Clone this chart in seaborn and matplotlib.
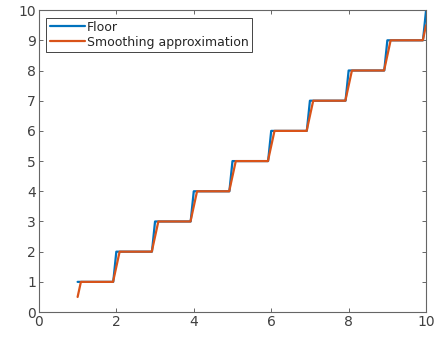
import numpy as np
import pandas as pd
import seaborn as sns
import matplotlib.pyplot as plt

# values
floor_x = [1, 1.92, 2, 2.92, 3, 3.92, 4, 4.92, 5, 5.92, 6, 6.92, 7, 7.92, 8, 8.92, 9, 9.92, 10]
floor_y = [1, 1, 2, 2, 3, 3, 4, 4, 5, 5, 6, 6, 7, 7, 8, 8, 9, 9, 10]
smooth_x = [1, 1.085, 1.915, 2.085, 2.915, 3.085, 3.915, 4.085, 4.915, 5.085, 5.915, 6.085,
            6.915, 7.085, 7.915, 8.085, 8.915, 9.085, 9.915, 10]
smooth_y = [0.5, 1, 1, 2, 2, 3, 3, 4, 4, 5, 5, 6, 6, 7, 7, 8, 8, 9, 9, 9.5]

sns.set_style("white")
plt.rcParams['font.family'] = ['DejaVu Sans']

fig = plt.figure(figsize=(4.37, 3.37), dpi=100)
ax = fig.add_axes([0.089, 0.074, 0.886, 0.896])

sns.lineplot(x=floor_x, y=floor_y, color='#0072BD', linewidth=1.6, sort=False,
             label='Floor', ax=ax)
sns.lineplot(x=smooth_x, y=smooth_y, color='#D95319', linewidth=1.6, sort=False,
             label='Smoothing approximation', ax=ax)

ax.set_xlim(0, 10)
ax.set_ylim(0, 10)
ax.set_xticks(np.arange(0, 11, 2))
ax.set_yticks(np.arange(0, 11, 1))
for s in ax.spines.values():
    s.set_visible(True)
    s.set_color('0.4')
    s.set_linewidth(0.8)
ax.tick_params(direction='in', length=3, width=0.6, color='0.3', labelsize=10,
               labelcolor='0.25', top=True, right=True, bottom=True, left=True, pad=2)

leg = ax.legend(loc='upper left', fontsize=9, fancybox=False, framealpha=1,
                edgecolor='0.15', handlelength=2.8, handletextpad=0.2,
                borderaxespad=0.6, borderpad=0.25, labelspacing=0.15)
leg.get_frame().set_linewidth(0.6)

fig.savefig('out.png', dpi=100)
